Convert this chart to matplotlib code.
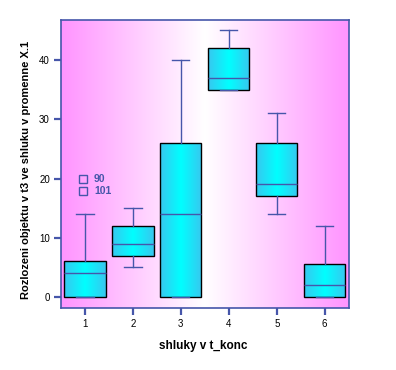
import numpy as np
import matplotlib
matplotlib.use("Agg")
import matplotlib.pyplot as plt
from matplotlib.colors import LinearSegmentedColormap

# data
categories = ["1", "2", "3", "4", "5", "6"]
whislo = [0, 5, 0, 35, 14, 0]
q1 = [0, 7, 0, 35, 17, 0]
med = [4, 9, 14, 37, 19, 2]
q3 = [6, 12, 26, 42, 26, 5.5]
whishi = [14, 15, 40, 45, 31, 12]
yticks = [0, 10, 20, 30, 40]
legend_labels = ["90", "101"]

plt.rcParams['font.family'] = ['Liberation Sans', 'DejaVu Sans']
blue = "#4656aa"

fig = plt.figure(figsize=(3.96, 3.70), dpi=100)
ax = fig.add_axes([0.154, 0.1684, 0.7265, 0.7784])

# background gradient
bg_cmap = LinearSegmentedColormap.from_list("bg", [(1.0, 0.58, 1.0), (1.0, 1.0, 1.0), (1.0, 0.58, 1.0)])
grad = np.linspace(0, 1, 256).reshape(1, -1)
ax.imshow(grad, cmap=bg_cmap, extent=[0, 1, 0, 1], transform=ax.transAxes,
          aspect="auto", zorder=0)

stats = []
for i in range(len(categories)):
    stats.append(dict(whislo=whislo[i], q1=q1[i], med=med[i], q3=q3[i],
                      whishi=whishi[i], fliers=[], label=categories[i]))

positions = np.arange(1, len(categories) + 1)
bp = ax.bxp(stats, positions=positions, widths=0.86, patch_artist=True,
            showfliers=False, capwidths=0.36,
            boxprops=dict(facecolor="none", edgecolor="black", linewidth=1.0),
            whiskerprops=dict(color=blue, linewidth=1.0),
            capprops=dict(color=blue, linewidth=1.0),
            medianprops=dict(color=blue, linewidth=1.0))

box_cmap = LinearSegmentedColormap.from_list("bx", [(0.22, 0.78, 0.94), (0.0, 1.0, 1.0), (0.22, 0.78, 0.94)])
for i, patch in enumerate(bp["boxes"]):
    p = positions[i]
    im = ax.imshow(grad, cmap=box_cmap, extent=[p - 0.43, p + 0.43, q1[i], q3[i]],
                   aspect="auto", zorder=1.5)
    im.set_clip_path(patch)
    patch.set_zorder(2)
for key in ["whiskers", "caps", "medians"]:
    for l in bp[key]:
        l.set_zorder(2.5)

ax.set_xlim(0.5, 6.5)
ax.set_ylim(-1.8, 46.8)
ax.set_yticks(yticks)
ax.set_xticks(positions)
ax.set_xticklabels(categories)

for s in ax.spines.values():
    s.set_color(blue)
    s.set_linewidth(1.2)
ax.tick_params(axis="both", color=blue, width=1.6, length=5, labelsize=7, pad=3)

ax.set_xlabel("shluky v t_konc", fontsize=8.5, fontweight="bold")
ax.xaxis.set_label_coords(0.495, -0.133)
ax.set_ylabel("Rozlozeni objektu v t3 ve shluku v promenne X.1", fontsize=8,
              fontweight="bold")
ax.yaxis.set_label_coords(-0.122, 0.478)
ax.xaxis.label.set_va("center")
ax.yaxis.label.set_va("center")

# legend-like markers
for y, lab in zip([0.446, 0.406], legend_labels):
    ax.plot([0.0754], [y], marker="s", markersize=6, markerfacecolor="none",
            markeredgecolor=blue, markeredgewidth=1.0, transform=ax.transAxes, zorder=3)
    ax.text(0.115, y, lab, transform=ax.transAxes, fontsize=7.5, fontweight="bold",
            color=blue, va="center", ha="left", zorder=3)

fig.savefig("out.png", dpi=100)
